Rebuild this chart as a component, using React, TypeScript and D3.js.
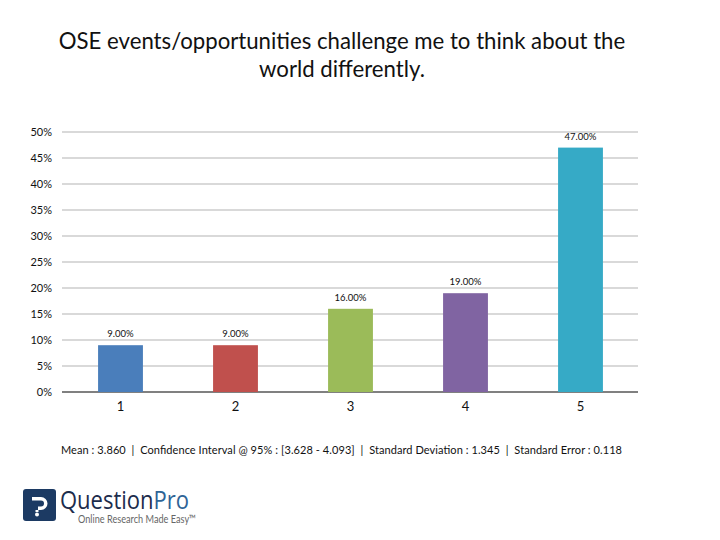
import React from "react"
import { scaleBand, scaleLinear, range } from "d3"

const width = 720
const height = 540
const font = "Lato, 'Open Sans', sans-serif"

const titleLines = ["OSE events/opportunities challenge me to think about the", "world differently."]
const categories = ["1", "2", "3", "4", "5"]
const values = [9, 9, 16, 19, 47]
const colors = ["#4a7ebb", "#c0504d", "#9bbb59", "#8064a2", "#36aac6"]
const yTicks = [0, 5, 10, 15, 20, 25, 30, 35, 40, 45, 50]
const footer = "Mean : 3.860  |  Confidence Interval @ 95% : [3.628 - 4.093]  |  Standard Deviation : 1.345  |  Standard Error : 0.118"

const x = scaleBand<string>().domain(categories).range([63, 638]).paddingInner(0.61).paddingOuter(0.305)
const y = scaleLinear().domain([0, 50]).range([392, 132])

const Logo = () => (
  <g>
    <rect x={23} y={489} width={33} height={32} rx={3} fill="#1c3a63" />
    <path
      d="M32 497 h9 a6.5 6.5 0 0 1 0 13 h-3 v-3.5 h3 a3 3 0 0 0 0 -6 h-9 z"
      fill="#fff"
    />
    <rect x={35.5} y={510} width={3} height={2} fill="#fff" />
    <circle cx={37} cy={514.5} r={2} fill="#fff" />
    <text x={60} y={509} fontFamily="'Open Sans', sans-serif" fontSize={25} textLength={129} lengthAdjust="spacingAndGlyphs">
      <tspan fill="#1c2c4c">Question</tspan>
      <tspan fill="#2f6496">Pro</tspan>
    </text>
    <text x={78} y={523} fontFamily={font} fontSize={11.5} fill="#666" textLength={118} lengthAdjust="spacingAndGlyphs">
      Online Research Made Easy™
    </text>
  </g>
)

const App = () => (
  <svg width={width} height={height} style={{ position: "absolute", left: 0, top: 0 }}>
    <rect width={width} height={height} fill="#fff" />
    {titleLines.map((t, i) => (
      <text key={i} x={342} y={49 + i * 28} textAnchor="middle" fontFamily={font} fontSize={22.2} fill="#111">
        {t}
      </text>
    ))}

    {yTicks.map(t => (
      <g key={t}>
        <line
          x1={62}
          x2={638}
          y1={y(t)}
          y2={y(t)}
          stroke={t === 0 ? "#808080" : "#d9d9d9"}
          strokeWidth={2}
        />
        <text x={52} y={y(t) + 4} textAnchor="end" fontFamily={font} fontSize={11} fill="#111">
          {t}%
        </text>
      </g>
    ))}

    {range(values.length).map(i => {
      const c = categories[i]
      const cx = x(c)! + x.bandwidth() / 2
      return (
        <g key={c}>
          <rect x={x(c)} y={y(values[i])} width={x.bandwidth()} height={y(0) - y(values[i])} fill={colors[i]} />
          <text
            x={cx}
            y={y(values[i]) - 8}
            textAnchor="middle"
            fontFamily={font}
            fontSize={9.5}
            fill="#111"
          >
            {values[i].toFixed(2)}%
          </text>
          <text x={cx} y={411} textAnchor="middle" fontFamily={font} fontSize={13} fill="#111">
            {c}
          </text>
        </g>
      )
    })}

    <text x={61} y={454} fontFamily={font} fontSize={11} fill="#111" textLength={561} xmlSpace="preserve">
      {footer}
    </text>
    <Logo />
  </svg>
)

export default App
